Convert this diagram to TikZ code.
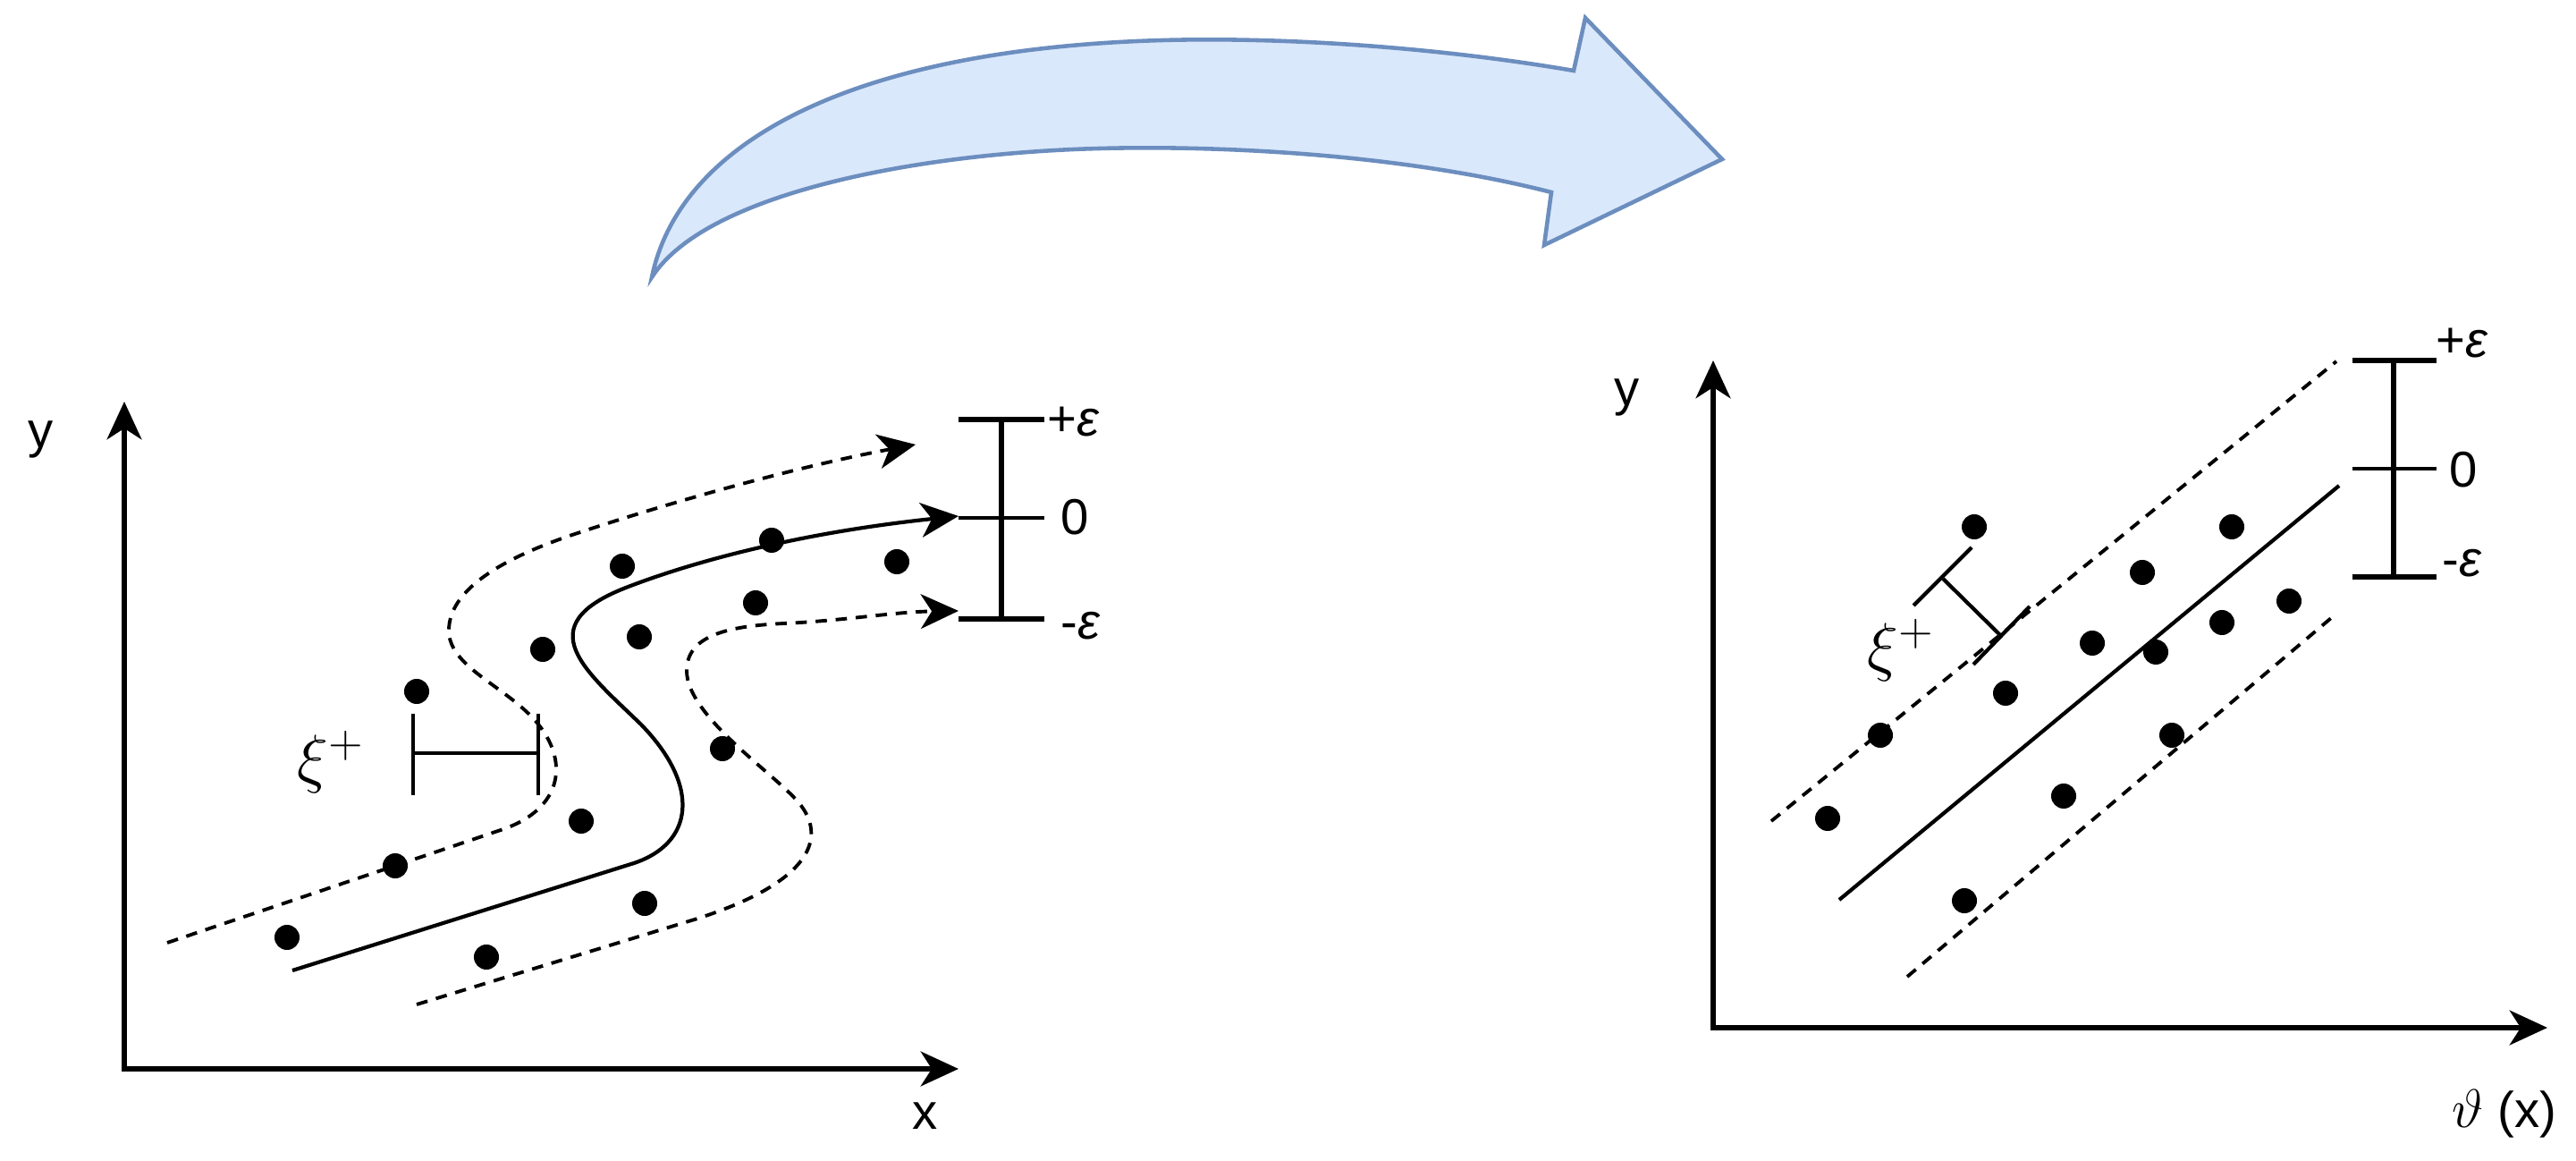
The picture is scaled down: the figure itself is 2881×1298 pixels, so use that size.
\documentclass[tikz,border=0pt]{standalone}
\usepackage{fontspec}
\setmainfont{Liberation Sans}
\usetikzlibrary{arrows.meta}
\definecolor{arrowfill}{HTML}{DAE8FC}
\definecolor{arrowdraw}{HTML}{6C8EBF}
\begin{document}
\begin{tikzpicture}[x=0.01cm,y=-0.01cm,
  tip/.tip={Stealth[length=12pt,width=11pt,inset=3.5pt]},
  axisline/.style={line width=1.7pt,{tip}-{tip},line join=miter},
  curve/.style={line width=1.2pt},
  dashcurve/.style={line width=1.1pt,dash pattern=on 3.6pt off 2.8pt},
  barline/.style={line width=1.7pt},
  thinbar/.style={line width=1.2pt},
  xibar/.style={line width=1.3pt},
  dot/.style={circle,fill=black,inner sep=0pt,minimum size=0.28cm},
  lbl/.style={inner sep=0pt,font=\fontsize{16}{19}\selectfont},
  mathlbl/.style={inner sep=0pt,font=\fontsize{20.74}{24}\selectfont},
  bigarrow/.style={fill=arrowfill,draw=arrowdraw,line width=1.3pt,line join=miter}]
\useasboundingbox (0,0) rectangle (2881,1298);

% ---- big curved arrow
\draw[bigarrow] (729,310) .. controls (760,160) and (950,55) .. (1300,45)
  .. controls (1450,41) and (1620,55) .. (1760,79)
  -- (1773,20) -- (1926,178) -- (1727,274) -- (1735,215)
  .. controls (1580,175) and (1380,162) .. (1230,166)
  .. controls (1030,171) and (790,215) .. (729,310) -- cycle;

% ---- left panel
\coordinate (L0) at (139,1195);
\coordinate (Ly) at (139,449);
\coordinate (Lx) at (1072,1195);
\draw[axisline] (Ly) -- (L0) -- (Lx);
\node[lbl] (Lylab) at (46,491) {y};
\node[lbl] (Lxlab) at (1035,1248) {x};

% solid S curve
\draw[curve,-{tip}] (327,1085) -- (709,965)
  .. controls (775,943) and (785,880) .. (717,810)
  .. controls (655,750) and (590,700) .. (700,657)
  .. controls (780,626) and (900,595) .. (1072,577);
% upper dashed
\draw[dashcurve,-{tip}] (187,1054) -- (560,928)
  .. controls (630,905) and (638,850) .. (598,805)
  .. controls (563,766) and (502,745) .. (502,705)
  .. controls (502,660) and (560,625) .. (640,598)
  .. controls (760,558) and (900,520) .. (1024,497);
% lower dashed
\draw[dashcurve,-{tip}] (466,1123) -- (780,1027)
  .. controls (910,985) and (925,935) .. (893,897)
  .. controls (865,864) and (768,800) .. (768,750)
  .. controls (768,712) and (810,700) .. (877,697)
  .. controls (944,694) and (1000,684) .. (1072,683);

% error bar left
\coordinate (LbT) at (1120,469);
\coordinate (LbB) at (1120,692);
\draw[barline] (LbT) -- (LbB);
\draw[barline] (1072,469) -- (1168,469);
\draw[thinbar] (1072,579) -- (1168,579);
\draw[barline] (1072,692) -- (1168,692);
\node[lbl,anchor=west] (Lpe) at (1171,472) {+\textit{ε}};
\node[lbl] (Lzero) at (1202,578) {0};
\node[lbl,anchor=west] (Lme) at (1186,700) {-\textit{ε}};

% xi bar left
\draw[xibar] (462,798) -- (462,889);
\draw[xibar] (602,798) -- (602,889);
\draw[xibar] (462,842) -- (602,842);
\node[mathlbl] (Lxi) at (370,852) {$\xi^{+}$};

% dots left
\node[dot] (a1) at (321,1048) {};
\node[dot] (a2) at (442,968) {};
\node[dot] (a3) at (466,773) {};
\node[dot] (a4) at (544,1070) {};
\node[dot] (a5) at (607,726) {};
\node[dot] (a6) at (650,918) {};
\node[dot] (a7) at (696,633) {};
\node[dot] (a8) at (715,712) {};
\node[dot] (a9) at (721,1010) {};
\node[dot] (a10) at (808,837) {};
\node[dot] (a11) at (845,674) {};
\node[dot] (a12) at (863,604) {};
\node[dot] (a13) at (1003,628) {};

% ---- right panel
\coordinate (R0) at (1916,1149);
\coordinate (Ry) at (1916,403);
\coordinate (Rx) at (2849,1149);
\draw[axisline] (Ry) -- (R0) -- (Rx);
\node[lbl] (Rylab) at (1820,444) {y};
\node[lbl] (Rxlab) at (2801,1245) {{\fontsize{19}{22}\selectfont$\vartheta$} (x)};

\coordinate (U1) at (1981,918); \coordinate (U2) at (2613,404);
\coordinate (S1) at (2057,1006); \coordinate (S2) at (2616,543);
\coordinate (D1) at (2133,1092); \coordinate (D2) at (2613,686);
\draw[dashcurve] (U1) -- (U2);
\draw[curve] (S1) -- (S2);
\draw[dashcurve] (D1) -- (D2);

% error bar right
\draw[barline] (2677,403) -- (2677,645);
\draw[barline] (2631,403) -- (2725,403);
\draw[thinbar] (2631,524) -- (2725,524);
\draw[barline] (2631,645) -- (2725,645);
\node[lbl,anchor=west] (Rpe) at (2724,384) {+\textit{ε}};
\node[lbl] (Rzero) at (2755,525) {0};
\node[lbl,anchor=west] (Rme) at (2731,630) {-\textit{ε}};

% xi bar right
\draw[thinbar] (2140,677) -- (2205,612);
\draw[thinbar] (2173,647) -- (2237,710);
\draw[thinbar] (2207,743) -- (2270,678);
\node[mathlbl] (Rxi) at (2126,727) {$\xi^{+}$};

% dots right
\node[dot] (b1) at (2208,589) {};
\node[dot] (b2) at (2496,589) {};
\node[dot] (b3) at (2396,640) {};
\node[dot] (b4) at (2560,672) {};
\node[dot] (b5) at (2485,696) {};
\node[dot] (b6) at (2340,719) {};
\node[dot] (b7) at (2411,729) {};
\node[dot] (b8) at (2243,775) {};
\node[dot] (b9) at (2103,822) {};
\node[dot] (b10) at (2429,822) {};
\node[dot] (b11) at (2308,890) {};
\node[dot] (b12) at (2044,915) {};
\node[dot] (b13) at (2197,1007) {};
\end{tikzpicture}
\end{document}
